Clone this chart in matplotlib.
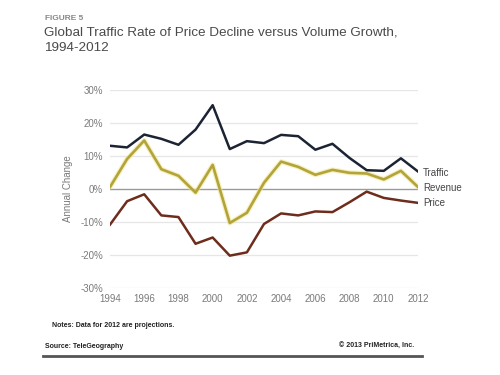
import matplotlib
matplotlib.use("Agg")
import matplotlib.pyplot as plt
import matplotlib.lines as mlines

years = list(range(1994, 2013))
traffic = [13.1, 12.6, 16.5, 15.2, 13.4, 18.0, 25.4, 12.1, 14.5, 13.9, 16.4, 16.0, 11.9, 13.7, 9.4, 5.7, 5.5, 9.3, 5.3]
revenue = [0.6, 9.1, 14.7, 6.0, 4.0, -1.1, 7.3, -10.3, -7.2, 1.9, 8.3, 6.7, 4.3, 5.8, 4.9, 4.7, 2.9, 5.5, 0.6]
price = [-10.8, -3.7, -1.6, -8.0, -8.5, -16.6, -14.7, -20.2, -19.2, -10.6, -7.4, -8.0, -6.8, -7.0, -4.0, -0.8, -2.7, -3.5, -4.2]
series_names = ["Traffic", "Revenue", "Price"]
yticks = [-30, -20, -10, 0, 10, 20, 30]
xticks = list(range(1994, 2013, 2))

plt.rcParams['font.family'] = ['Liberation Sans', 'DejaVu Sans']

fig = plt.figure(figsize=(5, 3.75), dpi=100)
ax = fig.add_axes([0.22, 0.232, 0.616, 0.528])

for y in yticks:
    if y == 0:
        ax.axhline(y, color="#9a9a9a", lw=1.0, zorder=1)
    else:
        ax.axhline(y, color="#e6e6e6", lw=0.9, zorder=1)

ax.plot(years, revenue, color="#f0e79a", lw=3.6, alpha=0.6, zorder=2, solid_capstyle="round")
ax.plot(years, traffic, color="#1c2434", lw=1.8, zorder=3)
ax.plot(years, revenue, color="#b3a43a", lw=1.9, zorder=3)
ax.plot(years, price, color="#6e2c1c", lw=1.8, zorder=3)

ax.set_xlim(1994, 2012)
ax.set_ylim(-30, 30)
ax.set_yticks(yticks)
ax.set_yticklabels([f"{v}%" for v in yticks], color="#7a7a7a", fontsize=7)
ax.set_xticks(xticks)
ax.set_xticklabels([str(v) for v in xticks], color="#7a7a7a", fontsize=7)
ax.tick_params(length=0, pad=5)
ax.tick_params(axis='x', pad=4)
for s in ax.spines.values():
    s.set_visible(False)
ax.set_ylabel("Annual Change", color="#7a7a7a", fontsize=7, labelpad=5)

ends = [(series_names[0], traffic[-1] - 0.4), (series_names[1], revenue[-1] - 0.3), (series_names[2], price[-1] + 0.0)]
for name, yv in ends:
    ax.annotate(name, xy=(2012, yv), xytext=(3.5, 0), textcoords="offset points",
                fontsize=7, color="#444444", va="center", ha="left", annotation_clip=False)

fig.text(0.09, 0.947, "FIGURE 5", fontsize=6, color="#888888", fontweight="bold")
fig.text(0.088, 0.905, "Global Traffic Rate of Price Decline versus Volume Growth,", fontsize=9.7, color="#4a4a4a")
fig.text(0.088, 0.865, "1994-2012", fontsize=9.7, color="#4a4a4a")

fig.text(0.104, 0.128, "Notes: Data for 2012 are projections.", fontsize=5, color="#222222", fontweight="bold")
fig.text(0.09, 0.073, "Source: TeleGeography", fontsize=5, color="#222222", fontweight="bold")
fig.text(0.828, 0.073, "\u00a9 2013 PriMetrica, Inc.", fontsize=5, color="#222222", fontweight="bold", ha="right")
fig.add_artist(mlines.Line2D([0.086, 0.844], [0.051, 0.051], transform=fig.transFigure, color="#555555", lw=2.0))

fig.savefig("out.png", dpi=100)
